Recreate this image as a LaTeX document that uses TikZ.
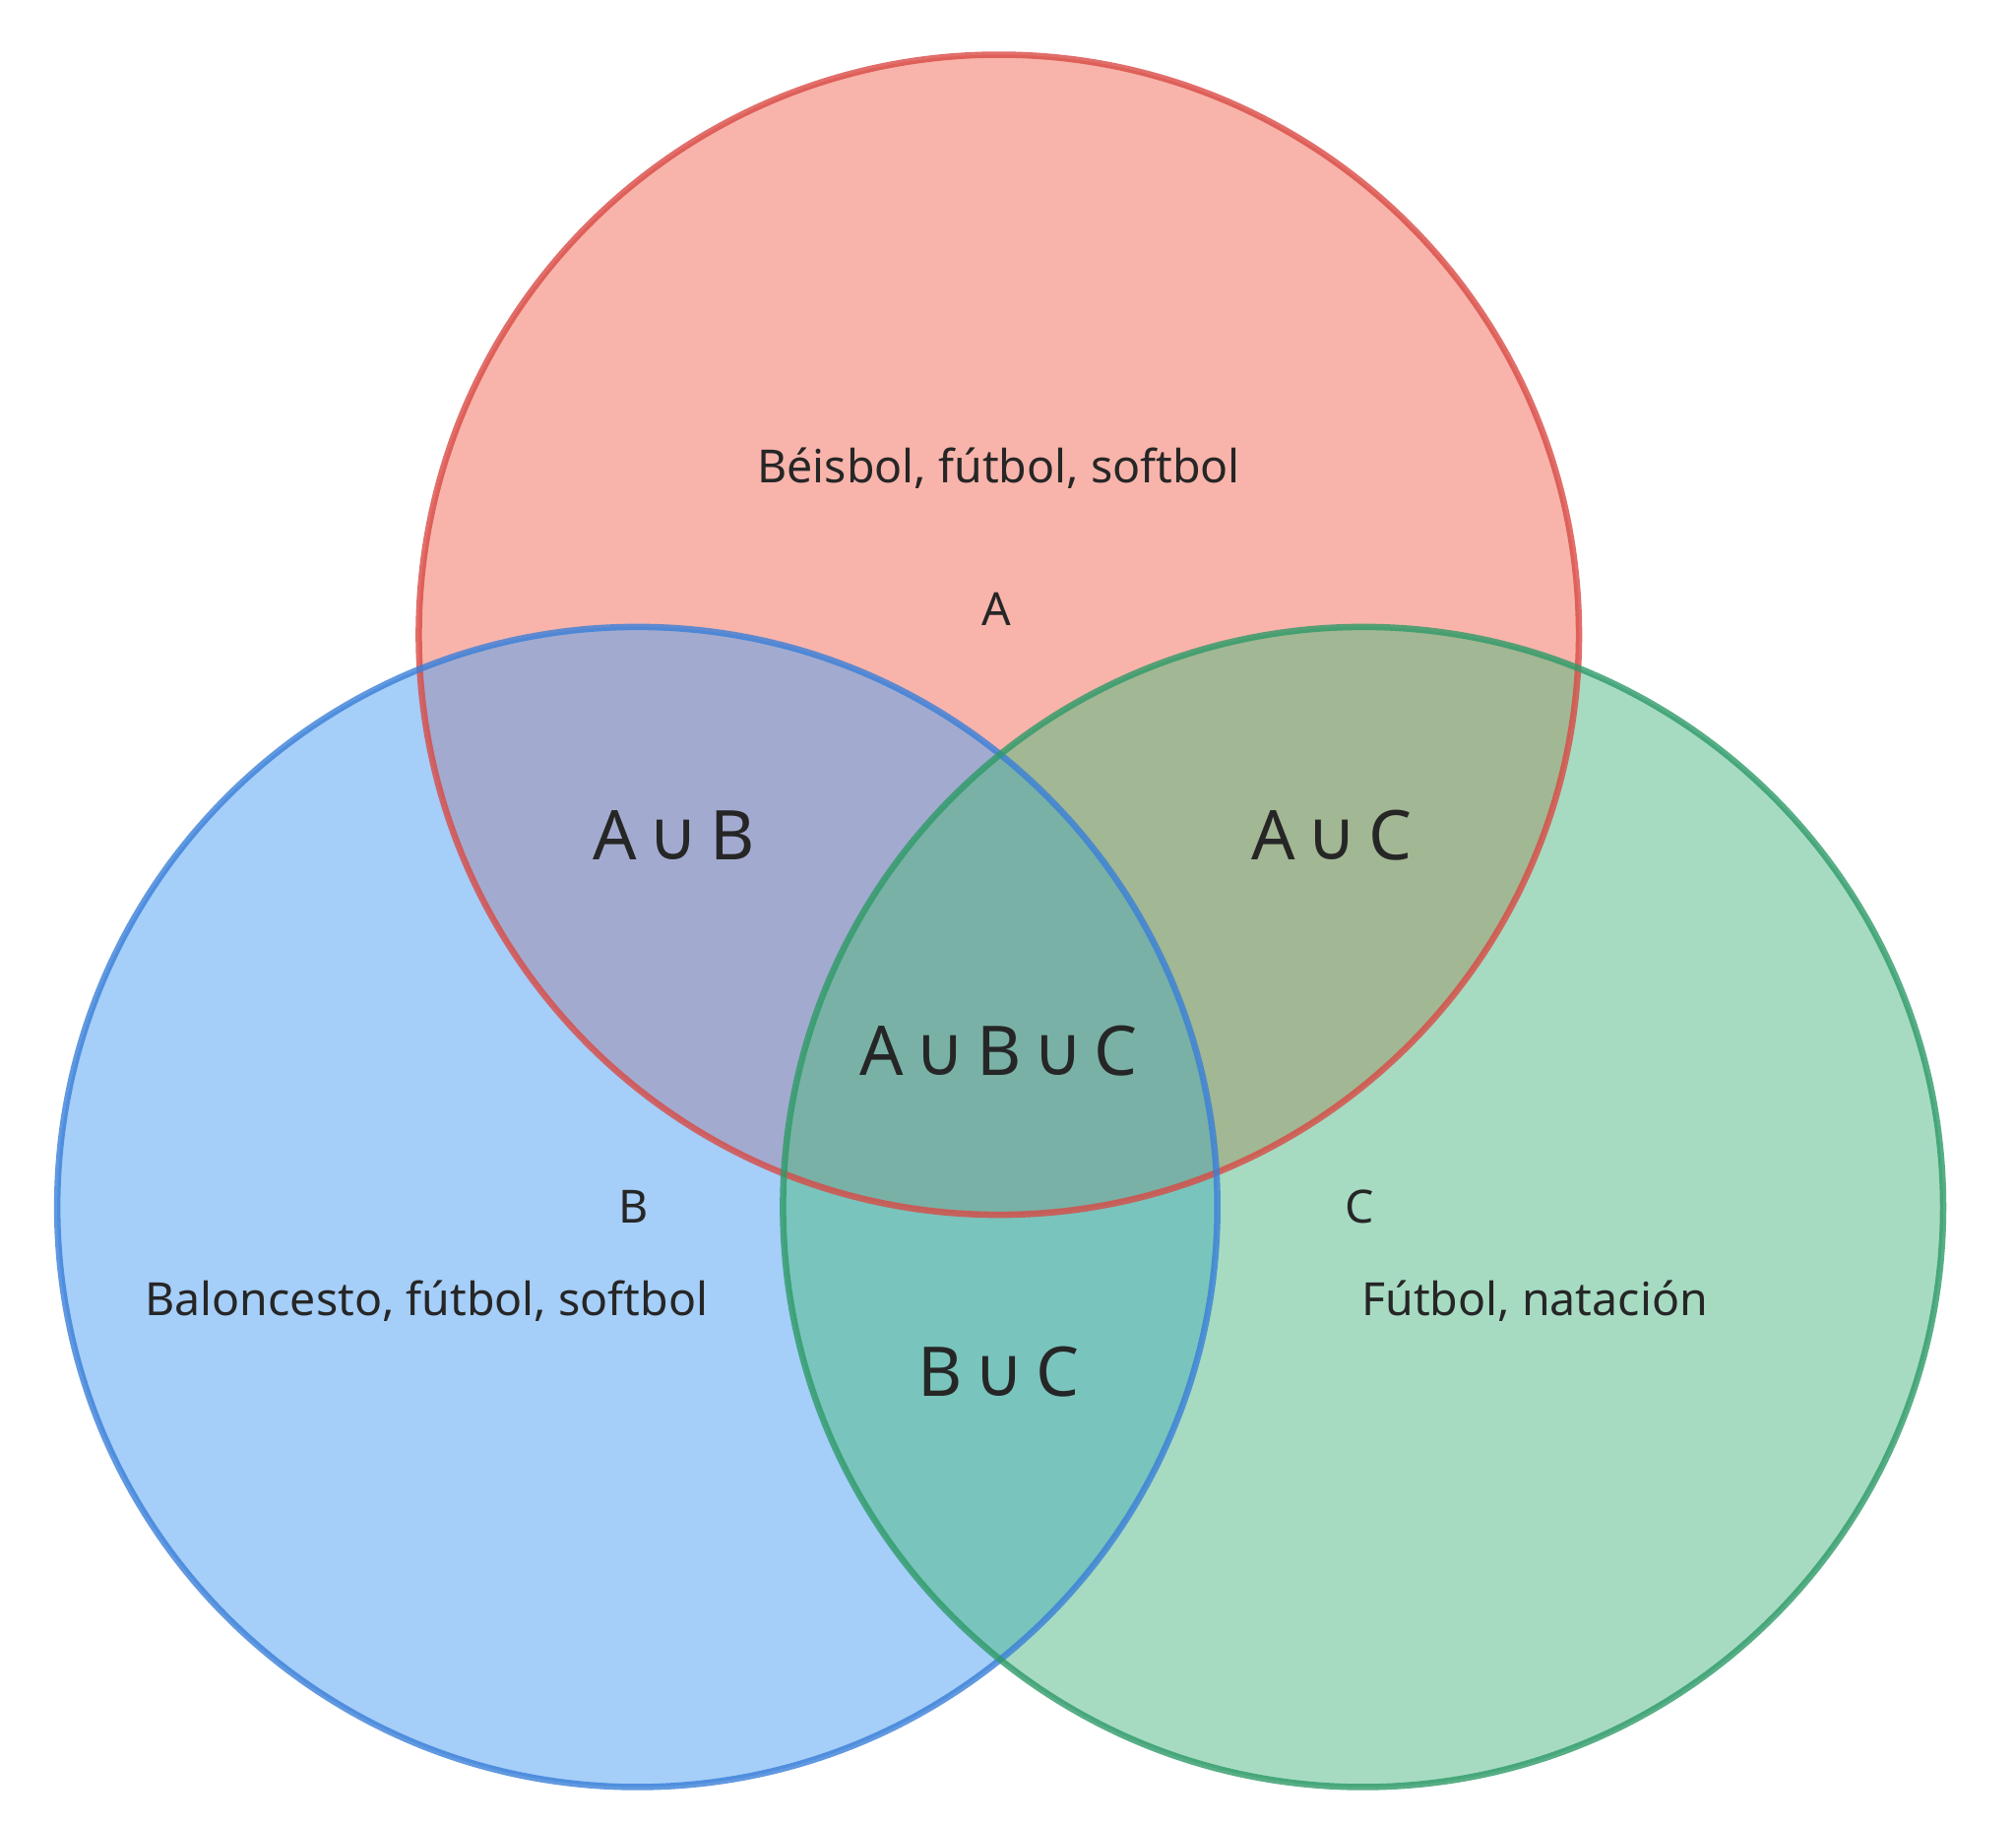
\documentclass[tikz,border=0pt]{standalone}
\usepackage{fontspec}
\setmainfont{Noto Sans}
\newfontfamily\symf{DejaVu Sans}
\newcommand{\un}{\,{\symf ∪}\,}
\definecolor{fa}{HTML}{F8B4AB}\definecolor{fb}{HTML}{A5CEF8}\definecolor{fc}{HTML}{A6DBC2}
\definecolor{fab}{HTML}{A2ABCF}\definecolor{fac}{HTML}{A2B793}\definecolor{fbc}{HTML}{79C4BC}\definecolor{fabc}{HTML}{79B1A6}
\definecolor{sa}{HTML}{D94A45}\definecolor{sb}{HTML}{3A7FD8}\definecolor{sc}{HTML}{2E9A68}
\begin{document}
\begin{tikzpicture}[x=0.01cm,y=-0.01cm,
  small/.style={font=\fontsize{10}{12}\selectfont,text=black!85},
  big/.style={font=\fontsize{15}{18}\selectfont,text=black!85}]
\useasboundingbox (0,0) rectangle (1550,1402);
\def\ca{(768,488) circle (446)}
\def\cb{(490,928) circle (446)}
\def\cc{(1048,928) circle (446)}
\fill[fa] \ca; \fill[fb] \cb; \fill[fc] \cc;
\begin{scope}\clip \ca; \fill[fab] \cb; \end{scope}
\begin{scope}\clip \ca; \fill[fac] \cc; \end{scope}
\begin{scope}\clip \cb; \fill[fbc] \cc; \end{scope}
\begin{scope}\clip \ca; \clip \cb; \fill[fabc] \cc; \end{scope}
\draw[sa,line width=1.4pt,draw opacity=0.8] \ca;
\draw[sb,line width=1.4pt,draw opacity=0.8] \cb;
\draw[sc,line width=1.4pt,draw opacity=0.8] \cc;
\node[small] (t1) at (768,360) {Béisbol, fútbol, softbol};
\node[small] (la) at (766,468) {A};
\node[small] (lb) at (487,928) {B};
\node[small] (lc) at (1045,928) {C};
\node[small] (t2) at (328,1000) {Baloncesto, fútbol, softbol};
\node[small] (t3) at (1180,1000) {Fútbol, natación};
\node[big] (ab) at (518,642) {A\un B};
\node[big] (ac) at (1024,642) {A\un C};
\node[big] (abc) at (768,808) {A\un B\un C};
\node[big] (bc) at (768,1055) {B\un C};
\end{tikzpicture}
\end{document}
